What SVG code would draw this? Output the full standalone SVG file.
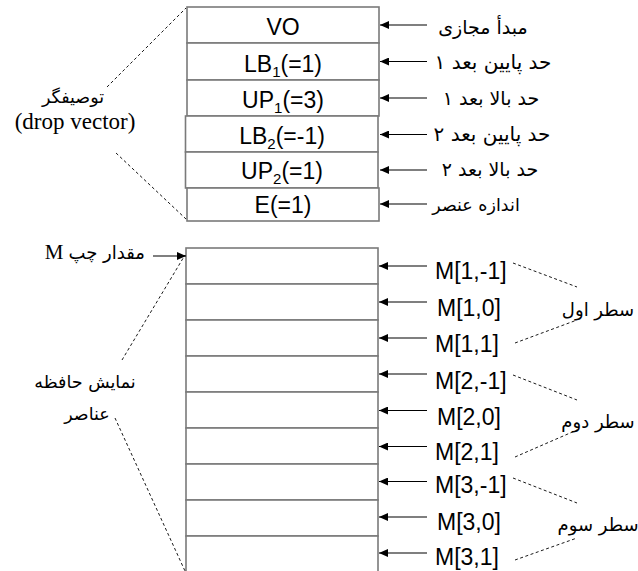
<svg xmlns="http://www.w3.org/2000/svg" width="638" height="571" viewBox="0 0 638 571">
<style>
.cell{fill:#fff;stroke:#7a7a7a;stroke-width:1.6}
.lat{font-family:"Liberation Sans",Arial,sans-serif;font-size:23px;fill:#000}
.mid{text-anchor:middle}
.sub{font-size:15px}
.ser{font-family:"Liberation Serif","Times New Roman",serif;font-size:23px;fill:#000}
.fa{font-family:"DejaVu Sans",sans-serif;font-size:17px;fill:#000}
.arr{stroke:#000;stroke-width:1.2;fill:none;marker-end:url(#ah)}
.dash{stroke:#000;stroke-width:0.9;stroke-dasharray:3 2.5;fill:none}
</style>
<defs>
<marker id="ah" markerWidth="10" markerHeight="8" refX="9" refY="4" orient="auto" markerUnits="userSpaceOnUse">
<path d="M0,0 L9,4 L0,8 z" fill="#000"/>
</marker>
</defs>

<g id="descriptor">
<g id="vo"><rect class="cell" x="187" y="7" width="192" height="36"/><text class="lat mid" x="283" y="35">VO</text></g>
<g id="lb1"><rect class="cell" x="187" y="43" width="192" height="37"/><text class="lat mid" x="283" y="72">LB<tspan class="sub" dy="5">1</tspan><tspan dy="-5">(=1)</tspan></text></g>
<g id="up1"><rect class="cell" x="187" y="80" width="192" height="36"/><text class="lat mid" x="283" y="108">UP<tspan class="sub" dy="5">1</tspan><tspan dy="-5">(=3)</tspan></text></g>
<g id="lb2"><rect class="cell" x="185.5" y="116" width="192.5" height="36"/><text class="lat mid" x="282" y="144">LB<tspan class="sub" dy="5">2</tspan><tspan dy="-5">(=-1)</tspan></text></g>
<g id="up2"><rect class="cell" x="185.5" y="152" width="192.5" height="36"/><text class="lat mid" x="282" y="179">UP<tspan class="sub" dy="5">2</tspan><tspan dy="-5">(=1)</tspan></text></g>
<g id="e"><rect class="cell" x="187" y="188" width="192" height="33"/><text class="lat mid" x="283" y="213">E(=1)</text></g>
</g>

<g id="memory">
<g id="m1"><rect class="cell" x="186" y="248" width="192" height="36"/></g>
<g id="m2"><rect class="cell" x="186" y="284" width="192" height="36"/></g>
<g id="m3"><rect class="cell" x="186" y="320" width="192" height="36"/></g>
<g id="m4"><rect class="cell" x="186" y="356" width="192" height="36"/></g>
<g id="m5"><rect class="cell" x="186" y="392" width="192" height="36"/></g>
<g id="m6"><rect class="cell" x="186" y="428" width="192" height="36"/></g>
<g id="m7"><rect class="cell" x="186" y="464" width="192" height="36"/></g>
<g id="m8"><rect class="cell" x="186" y="500" width="192" height="36"/></g>
<g id="m9"><rect class="cell" x="186" y="536" width="192" height="40"/></g>
</g>

<g id="connectors">
<line class="arr" x1="427" y1="25" x2="380" y2="25"/>
<line class="arr" x1="427" y1="61.5" x2="380" y2="61.5"/>
<line class="arr" x1="427" y1="98" x2="380" y2="98"/>
<line class="arr" x1="427" y1="134.5" x2="380" y2="134.5"/>
<line class="arr" x1="427" y1="170" x2="380" y2="170"/>
<line class="arr" x1="427" y1="204" x2="380" y2="204"/>
<line class="arr" x1="427" y1="266" x2="379" y2="266"/>
<line class="arr" x1="427" y1="302" x2="379" y2="302"/>
<line class="arr" x1="427" y1="338" x2="379" y2="338"/>
<line class="arr" x1="427" y1="374" x2="379" y2="374"/>
<line class="arr" x1="427" y1="410.5" x2="379" y2="410.5"/>
<line class="arr" x1="427" y1="446.5" x2="379" y2="446.5"/>
<line class="arr" x1="427" y1="481.5" x2="379" y2="481.5"/>
<line class="arr" x1="427" y1="517" x2="379" y2="517"/>
<line class="arr" x1="427" y1="553" x2="379" y2="553"/>
<line class="arr" x1="153" y1="256" x2="186" y2="256"/>
<line class="dash" x1="107" y1="87" x2="186" y2="8"/>
<line class="dash" x1="116" y1="153" x2="186" y2="219"/>
<line class="dash" x1="122" y1="360" x2="185" y2="255"/>
<line class="dash" x1="115" y1="418" x2="185" y2="571"/>
<line class="dash" x1="513" y1="263" x2="577" y2="287"/>
<line class="dash" x1="515" y1="343" x2="577" y2="320"/>
<line class="dash" x1="513" y1="375" x2="577" y2="400"/>
<line class="dash" x1="515" y1="457" x2="577" y2="430"/>
<line class="dash" x1="513" y1="478" x2="577" y2="503"/>
<line class="dash" x1="515" y1="560" x2="577" y2="538"/>
</g>

<g id="labels">
<text class="fa mid" direction="rtl" x="483" y="34" style="font-size:19px">مبدأ مجازی</text>
<text class="fa mid" direction="rtl" x="493" y="69" style="font-size:20px">حد پایین بعد ۱</text>
<text class="fa mid" direction="rtl" x="491" y="105" style="font-size:19px">حد بالا بعد ۱</text>
<text class="fa mid" direction="rtl" x="492" y="141" style="font-size:20px">حد پایین بعد ۲</text>
<text class="fa mid" direction="rtl" x="490" y="176" style="font-size:19px">حد بالا بعد ۲</text>
<text class="fa mid" direction="rtl" x="476" y="211" style="font-size:17.5px">اندازه عنصر</text>
<text class="fa mid" direction="rtl" x="73" y="103" style="font-size:17.5px">توصیفگر</text>
<text class="ser mid" x="75" y="129">(drop vector)</text>
<text class="fa" direction="rtl" x="145" y="259" style="font-size:18px">مقدار چپ<tspan class="ser" style="font-size:21px"> M</tspan></text>
<text class="fa mid" direction="rtl" x="85" y="388" style="font-size:17.5px">نمایش حافظه</text>
<text class="fa mid" direction="rtl" x="87" y="420" style="font-size:17.5px">عناصر</text>
<text class="lat" x="435" y="279">M[1,-1]</text>
<text class="lat" x="437" y="315.5">M[1,0]</text>
<text class="lat" x="435" y="351.5">M[1,1]</text>
<text class="lat" x="435" y="389">M[2,-1]</text>
<text class="lat" x="437" y="425">M[2,0]</text>
<text class="lat" x="435" y="460">M[2,1]</text>
<text class="lat" x="435" y="493">M[3,-1]</text>
<text class="lat" x="437" y="530">M[3,0]</text>
<text class="lat" x="435" y="565">M[3,1]</text>
<text class="fa mid" direction="rtl" x="598" y="316" style="font-size:18px">سطر اول</text>
<text class="fa mid" direction="rtl" x="598" y="428" style="font-size:18px">سطر دوم</text>
<text class="fa mid" direction="rtl" x="598" y="531" style="font-size:18px">سطر سوم</text>
</g>
</svg>
